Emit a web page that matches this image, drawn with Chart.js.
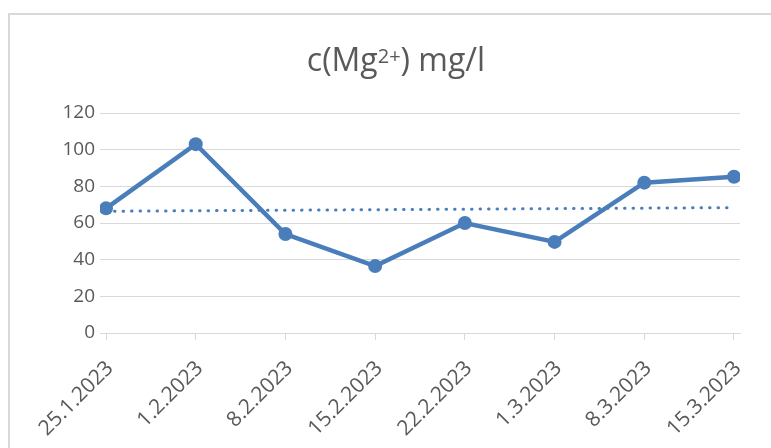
<!DOCTYPE html>
<html lang="en">
<head>
  <meta charset="UTF-8">
  <title>c(Mg2+) mg/l</title>
  <script src="https://cdn.jsdelivr.net/npm/chart.js"></script>
  <style>
    body { margin: 0; background: #fff; }
    #frame { position: absolute; left: 8px; top: 13px; width: 800px; height: 460px; border-left: 2px solid #d9d9d9; border-top: 2px solid #d9d9d9; }
    #chart { position: absolute; left: 0; top: 0; }
  </style>
</head>
<body>
  <div id="frame"></div>
  <canvas id="chart" width="771" height="448"></canvas>

  <script>
    // sampling dates and magnesium concentration
    const dates = ['25.1.2023', '1.2.2023', '8.2.2023', '15.2.2023', '22.2.2023', '1.3.2023', '8.3.2023', '15.3.2023'];
    const mgValues = [68, 103, 54, 36.5, 60, 49.7, 82, 85.2];
    // linear trendline, read at first and last date
    const trendValues = [66.4, 68.4];
    const yTicks = [0, 20, 40, 60, 80, 100, 120];
    // title: "c(Mg" + superscript "2+" + ") mg/l"
    const titleParts = ['c(Mg', '2+', ') mg/l'];

    const blue = '#4a7ebb';
    const grey = '#d9d9d9';
    const textGrey = '#595959';
    const font = "'Open Sans', 'DejaVu Sans', sans-serif";

    const mgPoints = mgValues.map((v, i) => ({ x: i, y: v }));
    const trendPoints = [
      { x: 0, y: trendValues[0] },
      { x: dates.length - 1, y: trendValues[1] }
    ];

    // chart title with a real superscript
    const supTitle = {
      id: 'supTitle',
      afterDraw(chart) {
        const ctx = chart.ctx;
        const big = '32px ' + font;
        const small = '20px ' + font;
        ctx.save();
        ctx.fillStyle = textGrey;
        ctx.textBaseline = 'alphabetic';
        ctx.textAlign = 'left';
        ctx.font = big;
        const w0 = ctx.measureText(titleParts[0]).width;
        const w2 = ctx.measureText(titleParts[2]).width;
        ctx.font = small;
        const w1 = ctx.measureText(titleParts[1]).width;
        let x = 396 - (w0 + w1 + w2) / 2;
        const base = 71;
        ctx.font = big;
        ctx.fillText(titleParts[0], x, base);
        x += w0;
        ctx.font = small;
        ctx.fillText(titleParts[1], x, base - 8);
        x += w1;
        ctx.font = big;
        ctx.fillText(titleParts[2], x, base);
        ctx.restore();
      }
    };

    new Chart(document.getElementById('chart'), {
      type: 'line',
      data: {
        datasets: [
          {
            label: 'c(Mg2+)',
            data: mgPoints,
            borderColor: blue,
            backgroundColor: blue,
            borderWidth: 4.5,
            pointRadius: 7,
            pointBorderWidth: 0,
            pointBackgroundColor: blue,
            tension: 0,
            order: 0
          },
          {
            label: 'trend',
            data: trendPoints,
            borderColor: blue,
            borderWidth: 3,
            borderDash: [0.5, 8],
            borderCapStyle: 'round',
            pointRadius: 0,
            fill: false,
            order: 1
          }
        ]
      },
      options: {
        responsive: false,
        animation: false,
        layout: { padding: { left: 50, right: 31, top: 113, bottom: 0 } },
        plugins: {
          legend: { display: false },
          tooltip: { enabled: false },
          title: { display: false }
        },
        scales: {
          x: {
            type: 'linear',
            min: -0.067,
            max: dates.length - 1 + 0.067,
            afterBuildTicks: s => { s.ticks = dates.map((d, i) => ({ value: i })); },
            afterFit: s => { s.height = 115; s.paddingLeft = 0; s.paddingRight = 0; },
            grid: { display: true, drawOnChartArea: false, drawTicks: true, tickLength: 7, color: grey },
            border: { display: true, color: grey, width: 1 },
            ticks: {
              autoSkip: false,
              minRotation: 45,
              maxRotation: 45,
              padding: 16,
              labelOffset: 4,
              color: textGrey,
              font: { family: font, size: 21 },
              callback: v => dates[v]
            }
          },
          y: {
            min: 0,
            max: 120,
            afterBuildTicks: s => { s.ticks = yTicks.map(v => ({ value: v })); },
            afterFit: s => { s.width = 50; s.paddingTop = 0; s.paddingBottom = 0; },
            grid: { color: grey, drawTicks: false },
            border: { display: false },
            ticks: {
              padding: 5,
              color: textGrey,
              font: { family: font, size: 19 }
            }
          }
        }
      },
      plugins: [supTitle]
    });
  </script>
</body>
</html>
